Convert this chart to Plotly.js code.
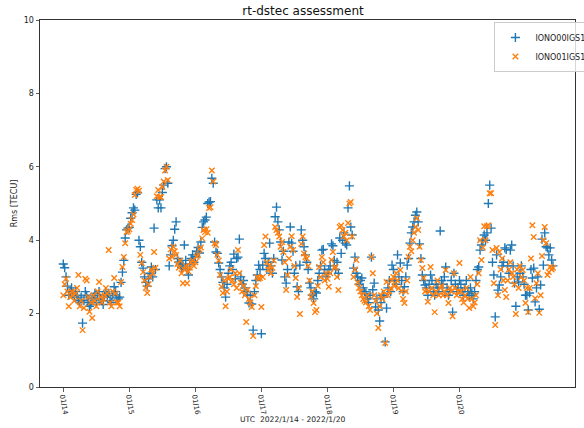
<!DOCTYPE html>
<html>
<head>
<meta charset="utf-8">
<script src="https://cdn.plot.ly/plotly-3.0.1.min.js"></script>
<style>
  html, body { margin: 0; padding: 0; overflow: hidden; background: #fff; }
  #chart { width: 600px; height: 428px; }
</style>
</head>
<body>
<div id="chart"></div>
<script>
// Sampling: 30-minute epochs starting 2022-01-14 00:00 UTC
const startDate = '2022-01-14';
const stepMinutes = 30;

// IONO00IGS1 (blue +), one array per day
const iono00Day14 = [3.35,3.25,3.0,2.75,2.5,2.6,2.7,2.55,2.45,2.6,2.5,2.35,2.3,2.45,1.74,2.35,2.6,2.5,2.3,2.2,2.25,2.4,2.45,2.55,2.3,2.5,2.6,2.4,2.35,2.25,2.5,2.6,2.45,2.55,2.35,2.3,2.5,2.73,2.6,2.45,2.4,2.45,2.85,3.13,3.45,4.06,4.28,4.33];
const iono00Day15 = [4.35,4.6,4.75,4.88,4.82,5.25,5.3,4.0,3.82,3.4,3.24,3.0,2.85,2.75,2.95,3.1,3.27,3.0,4.33,3.2,5.1,4.88,5.1,4.88,5.3,5.5,5.95,6.0,5.55,3.3,3.6,3.85,4.0,4.3,4.5,3.5,3.4,3.35,3.25,3.3,3.87,3.45,3.2,3.05,3.35,3.5,3.6,3.4];
const iono00Day16 = [3.55,3.7,3.8,3.65,3.95,4.35,4.5,4.55,4.63,5.0,5.04,5.05,5.69,5.55,3.95,3.68,3.64,3.38,3.2,3.0,2.85,2.7,2.45,2.8,3.1,3.3,3.4,3.2,3.62,2.95,3.5,3.54,4.03,3.0,2.8,2.9,2.7,2.6,2.5,2.29,2.5,2.26,1.55,2.6,2.9,3.05,3.32,3.2];
const iono00Day17 = [1.45,3.32,3.64,3.5,3.2,3.4,3.92,3.3,3.1,3.5,4.64,4.9,4.5,4.28,3.95,3.46,3.7,3.0,2.83,3.2,3.95,4.36,3.92,3.7,3.1,3.3,2.73,2.6,3.32,4.28,4.0,3.82,3.6,3.4,3.2,2.83,2.7,2.5,2.4,2.6,2.56,2.9,3.1,3.3,3.73,3.75,3.2,3.0];
const iono00Day18 = [3.1,3.2,3.3,3.9,3.85,3.45,3.2,3.4,3.1,4.06,3.64,4.0,4.2,3.92,3.87,4.88,5.48,4.36,4.14,3.24,3.54,3.1,3.0,2.8,2.9,2.97,2.7,2.6,2.55,2.4,2.3,2.5,3.54,2.65,2.83,2.18,2.4,2.1,1.8,2.3,2.5,2.45,1.23,2.15,2.7,2.9,2.6,3.32];
const iono00Day19 = [3.2,2.9,2.8,3.6,3.0,3.38,2.9,2.6,2.73,3.0,3.32,3.5,3.92,4.2,4.36,4.5,4.68,4.77,4.5,3.9,3.5,3.05,2.9,2.78,2.7,2.5,2.8,3.05,2.9,2.6,2.5,2.8,2.7,2.6,4.25,2.9,2.8,3.0,3.27,2.7,2.5,2.6,2.9,2.04,3.1,2.8,2.6,2.7];
const iono00Day20 = [2.9,2.8,2.6,2.5,2.7,2.9,2.6,2.5,2.7,2.55,2.4,2.6,2.9,3.2,3.27,3.73,3.87,4.0,4.14,4.0,4.2,5.0,5.5,4.33,3.4,3.05,1.91,3.6,2.64,2.78,3.0,3.3,3.4,3.79,3.75,3.3,3.1,3.73,3.87,3.3,2.83,2.2,3.0,2.86,3.1,3.3,3.0,2.8];
const iono00Day21 = [2.5,2.5,2.1,2.56,3.2,2.97,3.24,2.32,2.7,3.0,2.12,2.78,4.03,3.32,4.2,3.82,3.79,3.6,3.79,3.46,3.3];

// IONO01IGS1 (orange x), one array per day
const iono01Day14 = [2.5,2.8,2.95,2.6,2.2,2.45,2.6,2.5,2.35,2.55,2.7,3.05,2.2,2.35,1.55,2.15,2.95,2.9,2.45,2.05,2.3,1.88,2.5,2.35,2.2,2.6,2.86,2.45,2.3,2.4,2.5,2.7,2.55,3.73,2.3,2.2,2.6,2.97,2.55,2.3,2.3,2.2,2.86,3.27,3.54,3.92,4.22,4.25];
const iono01Day15 = [4.3,4.45,4.55,4.7,5.23,5.37,5.4,5.35,3.6,3.38,3.13,2.9,2.7,2.56,2.8,3.0,3.2,3.1,3.68,3.25,5.2,5.37,5.18,5.18,5.45,5.6,5.9,6.0,5.64,3.5,3.75,3.55,3.82,3.7,3.6,3.35,3.25,3.45,3.1,2.83,3.2,3.3,2.83,3.15,3.25,3.4,3.45,3.3];
const iono01Day16 = [3.4,3.55,3.6,3.75,3.8,4.05,4.28,4.22,4.3,4.2,4.88,4.9,5.9,5.6,3.92,3.87,3.6,3.45,3.05,2.73,2.56,2.9,2.2,2.6,2.95,3.0,3.2,2.9,2.8,3.1,2.7,3.73,3.1,2.85,2.6,2.75,2.5,1.77,2.65,2.4,2.3,2.18,1.39,2.5,2.75,3.0,2.95,2.97];
const iono01Day17 = [2.18,3.0,3.87,4.1,3.4,3.2,3.3,3.1,3.25,3.45,4.36,4.28,4.2,4.1,3.82,3.95,3.68,3.4,2.64,3.05,3.5,3.82,4.11,3.73,3.3,2.97,2.45,2.7,1.99,3.9,4.1,3.64,3.54,3.5,3.3,2.9,2.45,2.6,2.29,2.04,2.1,2.75,3.27,3.0,3.54,3.4,2.9,3.1];
const iono01Day18 = [2.95,2.73,3.1,3.46,3.68,3.24,3.27,3.0,2.64,4.36,4.4,4.28,4.1,4.2,4.0,4.47,5.0,5.04,4.1,3.0,3.2,3.46,2.85,2.7,2.6,2.5,2.4,2.35,2.3,2.5,2.2,2.1,3.54,3.1,2.5,2.35,2.0,1.61,2.2,2.5,2.4,2.6,1.2,2.86,2.5,2.6,2.7,2.9];
const iono01Day19 = [3.0,2.75,3.1,2.9,2.7,3.19,2.6,2.4,2.29,2.6,2.9,3.54,3.82,3.7,4.0,4.2,4.36,4.6,4.28,3.82,3.46,3.24,2.97,2.6,2.64,2.32,2.6,3.27,2.7,2.5,2.04,2.6,2.9,2.5,2.7,2.75,2.5,2.6,3.19,2.5,2.29,2.7,2.6,1.93,3.1,2.7,2.5,2.6];
const iono01Day20 = [3.38,2.6,2.4,2.3,2.5,2.7,2.4,2.15,3.0,2.4,2.2,2.3,2.5,2.8,3.1,4.0,3.46,3.8,4.38,4.0,4.38,4.41,5.28,5.28,3.73,2.83,1.69,3.79,2.5,3.68,3.2,3.5,2.9,2.64,2.45,2.9,3.2,3.4,3.1,3.0,2.8,1.99,3.2,2.7,3.3,3.0,3.19,2.9];
const iono01Day21 = [2.29,2.7,2.04,2.7,3.5,4.41,4.09,2.42,2.83,3.1,2.02,2.5,3.57,4.0,4.36,3.92,3.05,3.13,3.27,3.2,3.25];

const tickDates = ['2022-01-14','2022-01-15','2022-01-16','2022-01-17','2022-01-18','2022-01-19','2022-01-20'];
const tickLabels = ['01/14','01/15','01/16','01/17','01/18','01/19','01/20'];
const yTicks = [0, 2, 4, 6, 8, 10];

const iono00 = [].concat(iono00Day14, iono00Day15, iono00Day16, iono00Day17, iono00Day18, iono00Day19, iono00Day20, iono00Day21);
const iono01 = [].concat(iono01Day14, iono01Day15, iono01Day16, iono01Day17, iono01Day18, iono01Day19, iono01Day20, iono01Day21);

function pad(n) { return (n < 10 ? '0' : '') + n; }
function epochTimes(count) {
  const t0 = Date.parse(startDate + 'T00:00:00Z');
  const out = [];
  for (let i = 0; i < count; i++) {
    const d = new Date(t0 + i * stepMinutes * 60000);
    out.push(d.getUTCFullYear() + '-' + pad(d.getUTCMonth() + 1) + '-' + pad(d.getUTCDate()) + ' ' + pad(d.getUTCHours()) + ':' + pad(d.getUTCMinutes()));
  }
  return out;
}
const times00 = epochTimes(iono00.length);
const times01 = epochTimes(iono01.length);

const FAM = 'DejaVu Sans, sans-serif';

const traces = [
  {
    type: 'scatter', mode: 'markers', name: 'IONO00IGS1',
    x: times00, y: iono00,
    marker: { symbol: 'cross-thin', size: 6.5, color: '#1f77b4', line: { color: '#1f77b4', width: 1.4 } }
  },
  {
    type: 'scatter', mode: 'markers', name: 'IONO01IGS1',
    x: times01, y: iono01,
    marker: { symbol: 'x-thin', size: 5.5, color: '#ff7f0e', line: { color: '#ff7f0e', width: 1.4 } }
  }
];

const layout = {
  width: 600, height: 428,
  margin: { l: 40, r: 9, t: 20, b: 41, pad: 0 },
  paper_bgcolor: '#fff', plot_bgcolor: '#fff',
  font: { family: FAM, size: 8, color: '#222' },
  showlegend: true,
  title: { text: 'rt-dstec assessment', xref: 'container', x: 0.505, xanchor: 'center', y: 1 - 11 / 428, yanchor: 'middle', font: { family: FAM, size: 12, color: '#111' } },
  xaxis: {
    type: 'date',
    range: ['2022-01-13 15:32', '2022-01-21 18:00'],
    tickmode: 'array', tickvals: tickDates, ticktext: tickLabels,
    tickangle: 80,
    ticks: 'outside', ticklen: 3.5, tickwidth: 0.8, tickcolor: '#333',
    ticklabelstandoff: -2,
    showline: true, linecolor: '#333', linewidth: 1, mirror: true,
    showgrid: false, zeroline: false,
    tickfont: { family: FAM, size: 7, color: '#222' }
  },
  yaxis: {
    range: [0, 10],
    tickmode: 'array', tickvals: yTicks,
    ticks: 'outside', ticklen: 3.5, tickwidth: 0.8, tickcolor: '#333',
    showline: true, linecolor: '#333', linewidth: 1, mirror: true,
    showgrid: false, zeroline: false,
    tickfont: { family: FAM, size: 8, color: '#222' },
    title: { text: 'Rms [TECU]', standoff: 4, font: { family: FAM, size: 8, color: '#222' } }
  },
  annotations: [
    { text: 'UTC\u00a0 2022/1/14 - 2022/1/20', xref: 'paper', yref: 'paper', x: (300 - 40) / 551, y: (387 - 419) / 367, xanchor: 'center', yanchor: 'middle', showarrow: false, font: { family: FAM, size: 7.6, color: '#222' } }
  ],
  legend: {
    x: (508 - 40) / 551, xanchor: 'left', y: 1 - 2 / 367, yanchor: 'top',
    bgcolor: 'rgba(255,255,255,0.8)', bordercolor: '#ccc', borderwidth: 1,
    font: { family: FAM, size: 8, color: '#222' },
    itemwidth: 30, tracegroupgap: 0
  }
};

Plotly.newPlot('chart', traces, layout, { displayModeBar: false, staticPlot: true });
</script>
</body>
</html>
